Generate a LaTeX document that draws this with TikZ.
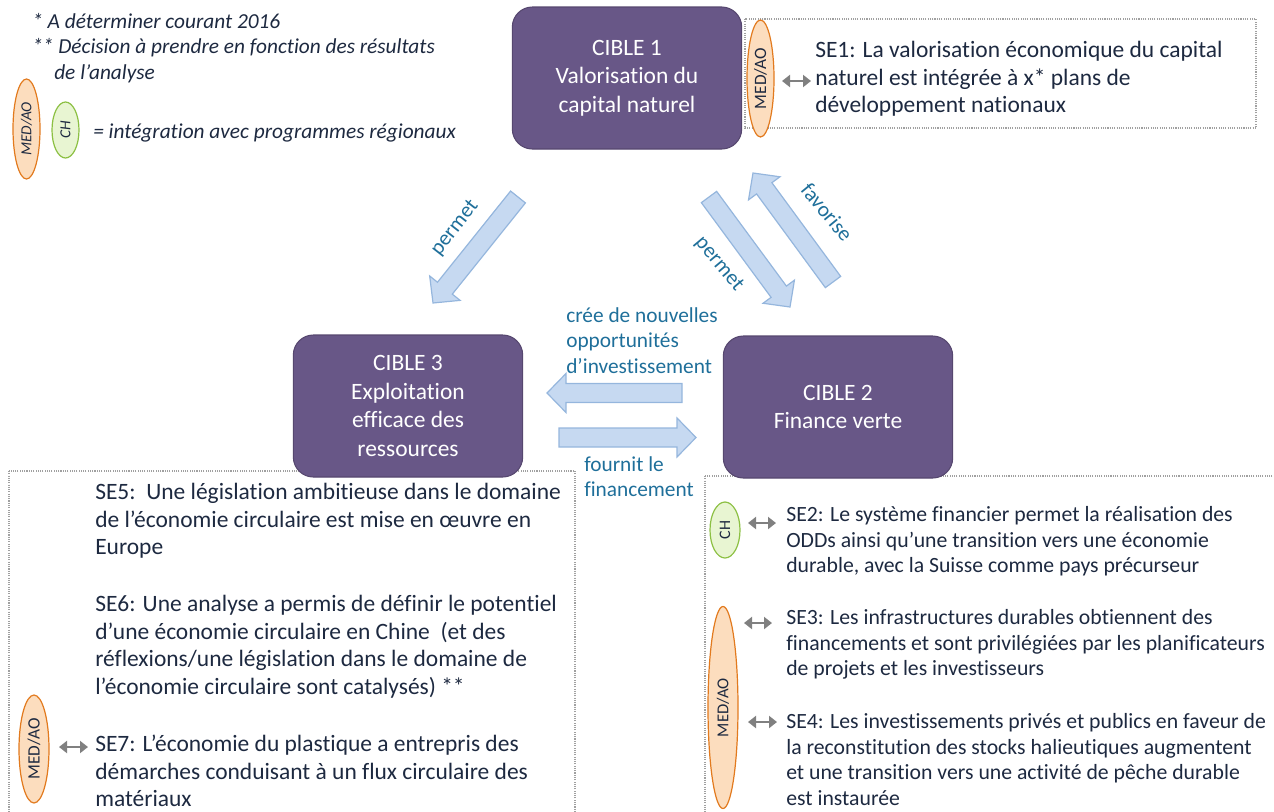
\documentclass[tikz,border=0pt]{standalone}
\usepackage{fontspec}
\setmainfont{Carlito}[Ligatures=NoCommon]
\usetikzlibrary{arrows.meta,shapes.geometric}
\definecolor{purp}{HTML}{685787}
\definecolor{purpb}{HTML}{56476F}
\definecolor{txt}{HTML}{1D2940}
\definecolor{tealc}{HTML}{1F6F9A}
\definecolor{afill}{HTML}{C6D9F1}
\definecolor{aline}{HTML}{95B6DD}
\definecolor{ofill}{HTML}{FCDDBE}
\definecolor{oline}{HTML}{E27A1E}
\definecolor{gfill}{HTML}{E8F5D2}
\definecolor{gline}{HTML}{8CC043}
\definecolor{dotc}{HTML}{A0A0A0}
\definecolor{grayarr}{HTML}{808080}
\newcommand\bluearrow[4]{%
 \pgfmathsetmacro\bax{#3-#1}%
 \pgfmathsetmacro\bay{#4-#2}%
 \pgfmathsetmacro\baang{atan2(-\bay,\bax)}%
 \pgfmathsetmacro\balen{veclen(\bax,\bay)}%
 \pgfmathsetmacro\babase{\balen-19}%
 \begin{scope}[shift={(#1,#2)},rotate=\baang]
 \draw[blockarr] (0,-9.5) -- (\babase,-9.5) -- (\babase,-19.5) -- (\balen,0) -- (\babase,19.5) -- (\babase,9.5) -- (0,9.5) -- cycle;
 \end{scope}}
\begin{document}
\begin{tikzpicture}[x=0.75pt,y=-0.75pt,
 cible/.style={rounded corners=15pt, fill=purp, draw=purpb, line width=0.8pt, text=white, align=center, inner sep=0pt, minimum width=172pt, minimum height=106.5pt, font=\fontsize{17.6}{21.4}\selectfont},
 se/.style={anchor=north west, inner sep=0pt, align=left, text=txt, font=\fontsize{17.6}{20.6}\selectfont},
 setwo/.style={anchor=north west, inner sep=0pt, align=left, text=txt, font=\fontsize{16.3}{19.3}\selectfont},
 lab/.style={inner sep=0pt, align=left, text=tealc, font=\fontsize{16}{19.1}\selectfont},
 leg/.style={anchor=base west, inner sep=0pt, text=txt, font=\itshape\fontsize{16}{19.5}\selectfont},
 medao/.style={ellipse, draw=oline, fill=ofill, line width=0.9pt, inner sep=0pt, rotate=90, text=txt},
 chell/.style={ellipse, draw=gline, fill=gfill, line width=0.9pt, inner sep=0pt, rotate=90, text=txt},
 dotbox/.style={draw=dotc, line width=0.8pt, dash pattern=on 0.8pt off 0.9pt},
 blockarr/.style={fill=afill, draw=aline, line width=0.9pt, line join=miter},
 gray2/.style={draw=grayarr, line width=2.2pt, {Triangle[length=6pt,width=9pt]}-{Triangle[length=6pt,width=9pt]}}
]
\useasboundingbox (0,0) rectangle (1274,811);

% dotted containers
\draw[dotbox] (745,19) rectangle (1256,128);
\draw[dotbox] (9,471) rectangle (575,830);
\draw[dotbox] (705,476) rectangle (1300,830);

% legend
\node[leg] (l1) at (32,28) {* A déterminer courant 2016};
\node[leg] (l2) at (32,53) {** Décision à prendre en fonction des résultats};
\node[leg] (l3) at (54,79) {de l’analyse};
\node[medao, minimum width=75pt, minimum height=20.25pt, font=\itshape\fontsize{11.5}{12}\selectfont] (lmed) at (26.5,129) {MED/AO};
\node[chell, minimum width=42pt, minimum height=20.25pt, font=\itshape\fontsize{11.5}{12}\selectfont] (lch) at (65.5,130) {CH};
\node[leg] (l4) at (93,138) {= intégration avec programmes régionaux};

% targets
\node[cible] (c1) at (627,78) {CIBLE 1\\Valorisation du\\capital naturel};
\node[cible] (c3) at (408,406) {CIBLE 3\\Exploitation\\efficace des\\ressources};
\node[cible] (c2) at (838,407) {CIBLE 2\\Finance verte};

% SE1
\node[medao, minimum width=87.75pt, minimum height=20.25pt, font=\fontsize{13}{14}\selectfont] (m1) at (760.5,78.5) {MED/AO};
\coordinate (g1a) at (782,81);
\coordinate (g1b) at (811,81);
\draw[gray2] (g1a) -- (g1b);
\node[se] (se1) at (815,38.25) {\strut SE1: La valorisation économique du capital\\naturel est intégrée à x* plans de\\développement nationaux};

% left block
\node[se] (se5) at (95,480.25) {\strut SE5:\ \ Une législation ambitieuse dans le domaine\\de l’économie circulaire est mise en œuvre en\\Europe};
\node[se] (se6) at (95,592.25) {\strut SE6: Une analyse a permis de définir le potentiel\\d’une économie circulaire en Chine\ \ (et des\\réflexions/une législation dans le domaine de\\l’économie circulaire sont catalysés) **};
\node[se] (se7) at (95,732.25) {\strut SE7: L’économie du plastique a entrepris des\\démarches conduisant à un flux circulaire des\\matériaux};
\node[medao, minimum width=81pt, minimum height=22.5pt, font=\fontsize{13}{14}\selectfont] (m7) at (34,749) {MED/AO};
\coordinate (g7a) at (59,747);
\coordinate (g7b) at (88,747);
\draw[gray2] (g7a) -- (g7b);

% right block
\node[chell, minimum width=42pt, minimum height=22.5pt, font=\fontsize{12}{13}\selectfont] (ch2) at (725,530) {CH};
\node[medao, minimum width=151.5pt, minimum height=22.5pt, font=\fontsize{12.5}{13}\selectfont] (m34) at (723,707.5) {MED/AO};
\coordinate (g2a) at (748,523);
\coordinate (g2b) at (776,523);
\coordinate (g3a) at (744,623);
\coordinate (g3b) at (772,623);
\coordinate (g4a) at (748,722);
\coordinate (g4b) at (777,722);
\draw[gray2] (g2a) -- (g2b);
\draw[gray2] (g3a) -- (g3b);
\draw[gray2] (g4a) -- (g4b);
\node[setwo] (se2) at (786,503.2) {\strut SE2: Le système financier permet la réalisation des\\ODDs ainsi qu’une transition vers une économie\\durable, avec la Suisse comme pays précurseur};
\node[setwo] (se3) at (786,606.2) {\strut SE3: Les infrastructures durables obtiennent des\\financements et sont privilégiées par les planificateurs\\de projets et les investisseurs};
\node[setwo] (se4) at (786,710.2) {\strut SE4: Les investissements privés et publics en faveur de\\la reconstitution des stocks halieutiques augmentent\\et une transition vers une activité de pêche durable\\est instaurée};

% block arrows
\bluearrow{518}{197}{433}{303}
\bluearrow{709}{197}{790}{307}
\bluearrow{833}{282}{753}{173}
\bluearrow{682}{393}{547}{393}
\bluearrow{559}{437.5}{696}{437.5}

% arrow labels
\node[lab, rotate=52] (p1) at (455,228) {permet};
\node[lab, rotate=-50] (p2) at (719,264) {permet};
\node[lab, rotate=-50.5] (fav) at (827,212) {favorise};
\node[lab, anchor=north west] (cree) at (566,304) {\strut crée de nouvelles\\opportunités\\d’investissement};
\node[lab, anchor=north west] (fourn) at (584,453) {\strut fournit le\\financement};
\end{tikzpicture}
\end{document}
